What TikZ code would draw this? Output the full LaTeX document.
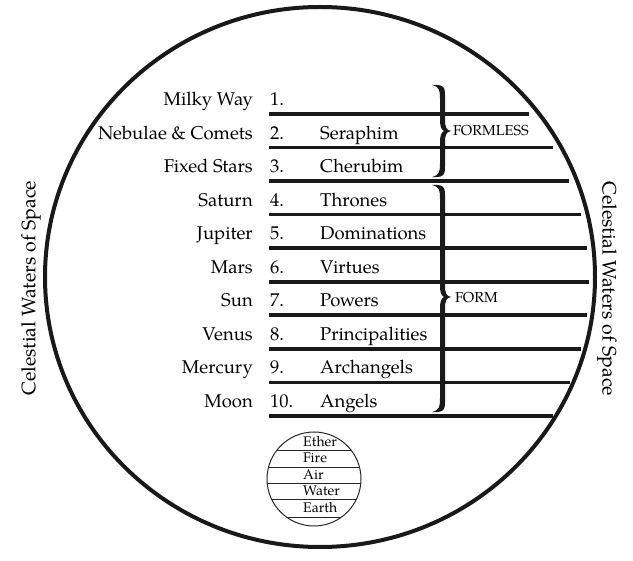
\documentclass[tikz,border=0pt]{standalone}
\usepackage{fontspec}
\setmainfont{TeX Gyre Pagella}
\newcommand\figbrace[3]{%
 \fill[black!90] (432,#1) .. controls (446,#1-1) and (445,#1+4) .. (445,#1+14) -- (445,#3-12)
   .. controls (445,#3-4) and (446,#3-1) .. (451,#3)
   .. controls (446,#3+1) and (445,#3+4) .. (445,#3+12) -- (445,#2-14)
   .. controls (445,#2-4) and (446,#2+1) .. (432,#2)
   .. controls (440,#2-2) and (440,#2-6) .. (440,#2-14) -- (440,#3+10)
   .. controls (440,#3+4) and (442,#3+1) .. (444,#3)
   .. controls (442,#3-1) and (440,#3-4) .. (440,#3-10) -- (440,#1+14)
   .. controls (440,#1+6) and (440,#1+2) .. cycle;}
\begin{document}
\begin{tikzpicture}[x=1pt,y=-1pt,
  lab/.style={font=\fontsize{18.5}{22}\selectfont, inner sep=0pt},
  side/.style={font=\fontsize{19.5}{23}\selectfont, inner sep=0pt},
  small/.style={font=\fontsize{14.5}{17}\selectfont, inner sep=0pt},
  elem/.style={font=\fontsize{14}{16}\selectfont, inner sep=0pt, anchor=base west},
  hline/.style={line width=3.6pt, black!90},
  ring/.style={line width=4pt, black!90}]
\useasboundingbox[fill=white] (0,0) rectangle (633,561);
% big circle
\draw[ring] (320,277) ellipse [x radius=275, y radius=270];
% rows
\foreach \i/\pl/\an/\xe in {1/Milky Way//529, 2/Nebulae \& Comets/Seraphim/553, 3/Fixed Stars/Cherubim/569,
   4/Saturn/Thrones/581, 5/Jupiter/Dominations/587, 6/Mars/Virtues/589, 7/Sun/Powers/587,
   8/Venus/Principalities/581, 9/Mercury/Archangels/570, 10/Moon/Angels/553}{
  \pgfmathsetmacro\ly{114+(\i-1)*33.55}
  \draw[hline] (269,\ly) -- (\xe,\ly);
  \node[lab, anchor=base east] (planet\i) at (253,\ly-8.5) {\pl};
  \node[lab, anchor=base west] (num\i) at (270,\ly-8.5) {\i.};
  \node[lab, anchor=base west] (angel\i) at (320,\ly-8.5) {\an};
}
% braces
\figbrace{85}{177}{131}
\figbrace{185}{412}{297}
\node[small, anchor=base west] (formless) at (453,136) {FORMLESS};
\node[small, anchor=base west] (form) at (455,303) {FORM};
% side labels
\node[side, rotate=90] (left) at (31,288) {Celestial Waters of Space};
\node[side, rotate=-90] (right) at (607,289) {Celestial Waters of Space};
% elements
\begin{scope}
  \clip (314,479) circle [radius=47];
  \foreach \y in {450,467,483,499,517}{\draw[line width=0.9pt, black!85] (260,\y) -- (370,\y);}
\end{scope}
\draw[line width=1pt, black!85] (314,479) circle [radius=47];
\node[elem] (ether) at (303,447) {Ether};
\node[elem] (fire) at (303,463) {Fire};
\node[elem] (air) at (303,480) {Air};
\node[elem] (water) at (303,496) {Water};
\node[elem] (earth) at (303,513) {Earth};
\end{tikzpicture}
\end{document}
